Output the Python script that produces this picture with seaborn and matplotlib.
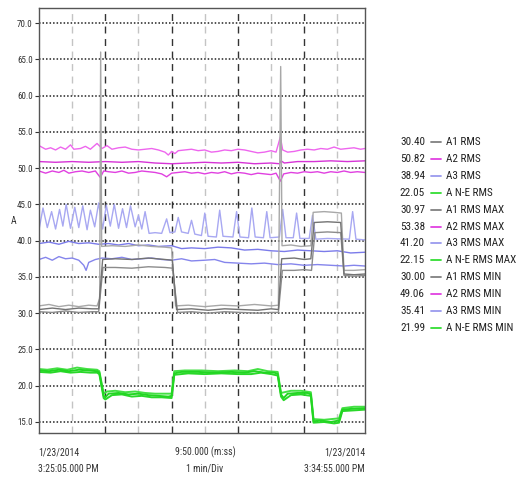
import numpy as np
import pandas as pd
import matplotlib
matplotlib.use("Agg")
import matplotlib.pyplot as plt
from matplotlib.lines import Line2D
import seaborn as sns

# ---------------- data (time in minutes from 3:25:05 PM) ----------------
a1_max_t = [0, 0.3, 0.6, 0.9, 1.2, 1.5, 1.75, 1.83, 1.86, 1.89, 2.2, 2.6, 3.0, 3.4, 3.8, 4.0, 4.12, 4.5, 5.0, 5.5, 6.0, 6.5, 7.0, 7.22, 7.29, 7.33, 7.6, 7.9, 8.2, 8.27, 8.6, 8.9, 9.12, 9.2, 9.5, 9.83]
a1_max_v = [31.0, 31.2, 30.9, 31.1, 30.9, 31.1, 31.0, 32.0, 66.0, 39.2, 39.3, 39.2, 39.4, 39.2, 39.1, 39.0, 31.0, 31.1, 30.9, 31.1, 31.0, 31.2, 31.0, 31.1, 64.0, 39.3, 39.4, 39.2, 39.3, 43.9, 44.0, 43.9, 43.8, 35.9, 35.9, 36.0]

a1_rms_t = [0, 0.4, 0.8, 1.2, 1.6, 1.8, 1.92, 2.3, 2.8, 3.3, 3.8, 4.02, 4.15, 4.6, 5.1, 5.6, 6.1, 6.6, 7.0, 7.22, 7.32, 7.7, 8.0, 8.2, 8.3, 8.7, 9.1, 9.2, 9.5, 9.83]
a1_rms_v = [30.5, 30.7, 30.5, 30.7, 30.6, 30.6, 37.4, 37.5, 37.4, 37.6, 37.4, 37.3, 30.5, 30.6, 30.4, 30.6, 30.5, 30.4, 30.6, 30.5, 37.5, 37.6, 37.4, 37.5, 42.5, 42.6, 42.5, 35.4, 35.3, 35.4]

a1_min_t = [0, 0.4, 0.8, 1.2, 1.6, 1.8, 1.93, 2.3, 2.8, 3.3, 3.8, 4.03, 4.18, 4.6, 5.1, 5.6, 6.1, 6.6, 7.0, 7.22, 7.34, 7.7, 8.0, 8.22, 8.32, 8.7, 9.1, 9.2, 9.5, 9.83]
a1_min_v = [30.2, 30.1, 30.3, 30.1, 30.2, 30.2, 36.3, 36.3, 36.2, 36.4, 36.3, 36.2, 30.1, 30.2, 30.0, 30.2, 30.1, 30.0, 30.1, 30.1, 35.9, 35.9, 36.0, 35.9, 41.1, 41.2, 41.1, 35.2, 35.1, 35.2]

a2_max_t = [0, 0.2, 0.35, 0.5, 0.65, 0.8, 0.95, 1.05, 1.25, 1.4, 1.55, 1.75, 1.9, 2.05, 2.2, 2.4, 2.6, 2.8, 3.0, 3.2, 3.4, 3.6, 3.8, 3.9, 4.0, 4.1, 4.2, 4.4, 4.6, 4.8, 5.0, 5.2, 5.4, 5.6, 5.8, 6.0, 6.2, 6.4, 6.6, 6.8, 7.0, 7.15, 7.28, 7.35, 7.5, 7.7, 7.9, 8.1, 8.3, 8.5, 8.7, 8.9, 9.1, 9.3, 9.5, 9.7, 9.83]
a2_max_v = [53.1, 52.6, 52.8, 52.5, 52.9, 52.6, 53.2, 52.6, 52.7, 53.0, 52.6, 53.4, 52.7, 53.1, 52.6, 52.8, 52.9, 52.6, 52.5, 52.6, 52.7, 52.5, 52.2, 51.8, 52.3, 52.0, 52.4, 52.5, 52.6, 52.4, 52.5, 52.2, 52.3, 52.5, 52.4, 52.6, 52.5, 52.3, 52.1, 52.2, 52.4, 52.2, 54.3, 52.5, 52.2, 52.3, 52.5, 52.6, 52.5, 52.7, 52.6, 52.9, 52.6, 52.7, 52.8, 52.6, 52.7]

a2_rms_t = [0, 0.5, 1.0, 1.5, 2.0, 2.5, 3.0, 3.5, 4.0, 4.5, 5.0, 5.5, 6.0, 6.5, 7.0, 7.25, 7.3, 7.4, 7.8, 8.3, 8.8, 9.3, 9.83]
a2_rms_v = [50.9, 50.8, 50.9, 50.8, 50.9, 50.8, 50.9, 50.7, 50.6, 50.7, 50.8, 50.7, 50.8, 50.6, 50.7, 50.6, 51.0, 50.7, 50.9, 50.9, 51.0, 50.9, 51.0]

a2_min_t = [0, 0.2, 0.4, 0.6, 0.75, 0.9, 1.1, 1.3, 1.5, 1.7, 1.85, 1.95, 2.1, 2.3, 2.5, 2.7, 2.9, 3.1, 3.3, 3.5, 3.7, 3.85, 4.0, 4.2, 4.4, 4.6, 4.8, 5.0, 5.2, 5.4, 5.6, 5.8, 6.0, 6.2, 6.4, 6.6, 6.8, 7.0, 7.15, 7.28, 7.38, 7.6, 7.8, 8.0, 8.2, 8.4, 8.6, 8.8, 9.0, 9.2, 9.4, 9.6, 9.83]
a2_min_v = [49.6, 49.3, 49.6, 49.4, 49.7, 49.3, 49.5, 49.6, 49.4, 49.6, 48.7, 49.6, 49.5, 49.4, 49.6, 49.3, 49.4, 49.6, 49.5, 49.4, 49.2, 48.8, 49.3, 49.4, 49.5, 49.3, 49.4, 49.2, 49.4, 49.3, 49.5, 49.2, 49.4, 49.3, 49.1, 49.3, 49.2, 49.1, 49.3, 48.2, 49.2, 49.4, 49.3, 49.5, 49.4, 49.5, 49.3, 49.5, 49.4, 49.6, 49.4, 49.5, 49.4]

a3_max_t = [0.0, 0.12, 0.25, 0.38, 0.5, 0.62, 0.72, 0.82, 0.95, 1.08, 1.2, 1.32, 1.45, 1.55, 1.68, 1.8, 1.92, 2.03, 2.15, 2.27, 2.4, 2.52, 2.64, 2.76, 2.9, 3.0, 3.1, 3.2, 3.32, 3.5, 3.7, 3.85, 3.95, 4.1, 4.2, 4.3, 4.5, 4.6, 4.7, 4.9, 5.0, 5.1, 5.35, 5.45, 5.55, 5.85, 5.96, 6.06, 6.32, 6.42, 6.52, 6.77, 6.87, 6.97, 7.25, 7.35, 7.45, 7.67, 7.77, 7.87, 8.15, 8.25, 8.35, 8.7, 9.36, 9.46, 9.56, 9.83]
a3_max_v = [41.5, 44.5, 41.8, 44.0, 41.6, 44.3, 42.0, 45.0, 41.7, 44.6, 41.8, 44.8, 41.5, 44.2, 41.9, 45.2, 41.6, 44.9, 42.0, 45.0, 41.7, 44.4, 41.8, 44.8, 41.9, 43.5, 41.6, 44.0, 41.0, 41.1, 41.0, 43.0, 41.1, 41.2, 43.2, 41.2, 41.0, 42.8, 40.9, 40.7, 43.8, 40.6, 40.5, 44.2, 40.6, 40.5, 44.0, 40.5, 40.4, 44.5, 40.5, 40.4, 44.0, 40.4, 40.5, 44.3, 40.4, 40.4, 43.8, 40.3, 40.3, 43.5, 40.2, 40.3, 40.2, 44.0, 40.2, 40.1]

a3_rms_t = [0, 0.3, 0.6, 0.9, 1.2, 1.5, 1.8, 2.1, 2.4, 2.7, 3.0, 3.3, 3.6, 4.0, 4.3, 4.6, 5.0, 5.4, 5.8, 6.2, 6.6, 7.0, 7.4, 7.8, 8.2, 8.6, 9.0, 9.4, 9.83]
a3_rms_v = [39.6, 39.8, 39.5, 39.9, 39.6, 39.7, 39.5, 39.6, 39.4, 39.6, 39.3, 39.4, 39.2, 39.3, 38.9, 39.0, 38.9, 39.1, 39.0, 38.7, 38.8, 38.6, 38.5, 38.7, 38.6, 38.5, 38.6, 38.3, 38.4]

a3_min_t = [0, 0.2, 0.4, 0.6, 0.8, 1.0, 1.2, 1.35, 1.42, 1.5, 1.7, 1.9, 2.2, 2.5, 2.8, 3.1, 3.4, 3.7, 4.0, 4.3, 4.6, 5.0, 5.3, 5.6, 6.0, 6.4, 6.8, 7.2, 7.6, 8.0, 8.4, 8.8, 9.2, 9.5, 9.83]
a3_min_v = [37.4, 37.7, 37.3, 37.8, 37.5, 37.6, 37.3, 36.6, 35.9, 37.0, 37.4, 37.6, 37.5, 37.7, 37.4, 37.5, 37.6, 37.4, 37.3, 37.5, 37.2, 37.3, 37.4, 37.0, 36.9, 36.8, 36.9, 36.7, 36.8, 36.6, 36.7, 36.6, 36.5, 36.6, 36.5]

ne_rms_t = [0, 0.3, 0.6, 0.9, 1.2, 1.5, 1.75, 1.82, 1.95, 2.0, 2.1, 2.4, 2.7, 3.0, 3.3, 3.6, 3.9, 4.0, 4.08, 4.3, 4.8, 5.3, 5.8, 6.2, 6.5, 6.8, 7.1, 7.2, 7.3, 7.38, 7.5, 7.8, 8.1, 8.2, 8.28, 8.5, 8.8, 9.05, 9.15, 9.4, 9.83]
ne_rms_v = [22.1, 22.0, 22.2, 22.0, 22.2, 22.1, 22.0, 21.8, 18.6, 18.4, 18.9, 19.0, 18.8, 18.9, 18.7, 18.6, 18.5, 18.6, 21.7, 21.9, 21.9, 21.8, 21.9, 21.8, 22.0, 21.8, 21.8, 21.6, 18.8, 18.3, 18.9, 19.0, 19.0, 18.8, 15.1, 15.2, 15.0, 15.2, 16.7, 16.8, 16.9]

ne_max_t = [0, 0.25, 0.55, 0.85, 1.15, 1.45, 1.75, 1.82, 1.95, 2.05, 2.3, 2.6, 2.9, 3.2, 3.5, 3.8, 4.0, 4.08, 4.4, 4.9, 5.4, 5.9, 6.3, 6.6, 6.9, 7.2, 7.3, 7.4, 7.6, 7.9, 8.2, 8.28, 8.6, 9.05, 9.15, 9.5, 9.83]
ne_max_v = [22.3, 22.2, 22.4, 22.2, 22.5, 22.3, 22.2, 22.0, 18.9, 19.2, 19.3, 19.1, 19.2, 19.0, 18.9, 18.9, 18.9, 22.0, 22.1, 22.1, 22.0, 22.1, 22.0, 22.3, 22.0, 21.9, 19.0, 19.1, 19.3, 19.3, 19.1, 15.4, 15.3, 15.5, 16.9, 17.1, 17.1]

ne_min_t = [0, 0.35, 0.65, 0.95, 1.25, 1.55, 1.75, 1.82, 1.95, 2.0, 2.2, 2.5, 2.8, 3.1, 3.4, 3.7, 4.0, 4.08, 4.5, 5.0, 5.5, 6.0, 6.4, 6.7, 7.0, 7.2, 7.3, 7.38, 7.6, 7.9, 8.2, 8.28, 8.6, 8.9, 9.05, 9.15, 9.5, 9.83]
ne_min_v = [21.9, 21.8, 22.0, 21.8, 21.9, 21.8, 21.8, 21.6, 18.3, 18.1, 18.7, 18.8, 18.5, 18.6, 18.4, 18.4, 18.3, 21.5, 21.7, 21.6, 21.7, 21.6, 21.6, 21.8, 21.6, 21.4, 18.5, 18.0, 18.7, 18.8, 18.6, 14.9, 15.0, 14.8, 14.9, 16.5, 16.6, 16.7]

legend_values = ["30.40", "50.82", "38.94", "22.05", "30.97", "53.38", "41.20", "22.15", "30.00", "49.06", "35.41", "21.99"]
legend_labels = ["A1 RMS", "A2 RMS", "A3 RMS", "A N-E RMS", "A1 RMS MAX", "A2 RMS MAX", "A3 RMS MAX", "A N-E RMS MAX",
                 "A1 RMS MIN", "A2 RMS MIN", "A3 RMS MIN", "A N-E RMS MIN"]
y_ticks = [15, 20, 25, 30, 35, 40, 45, 50, 55, 60, 65, 70]

series = {
    "A1 RMS": (a1_rms_t, a1_rms_v), "A2 RMS": (a2_rms_t, a2_rms_v), "A3 RMS": (a3_rms_t, a3_rms_v),
    "A N-E RMS": (ne_rms_t, ne_rms_v),
    "A1 RMS MAX": (a1_max_t, a1_max_v), "A2 RMS MAX": (a2_max_t, a2_max_v), "A3 RMS MAX": (a3_max_t, a3_max_v),
    "A N-E RMS MAX": (ne_max_t, ne_max_v),
    "A1 RMS MIN": (a1_min_t, a1_min_v), "A2 RMS MIN": (a2_min_t, a2_min_v), "A3 RMS MIN": (a3_min_t, a3_min_v),
    "A N-E RMS MIN": (ne_min_t, ne_min_v),
}

palette = {
    "A1 RMS": "#737373", "A1 RMS MAX": "#a8a8a8", "A1 RMS MIN": "#8c8c8c",
    "A2 RMS": "#d633d6", "A2 RMS MAX": "#ee66ee", "A2 RMS MIN": "#e040e0",
    "A3 RMS": "#7b7bea", "A3 RMS MAX": "#a8a8f2", "A3 RMS MIN": "#8585ec",
    "A N-E RMS": "#22d622", "A N-E RMS MAX": "#44e044", "A N-E RMS MIN": "#2ad82a",
}
widths = {k: 1.0 for k in palette}
for k in ["A N-E RMS", "A N-E RMS MAX", "A N-E RMS MIN"]:
    widths[k] = 1.4
legend_colors = ["#808080", "#e040e0", "#9a9aee", "#33dd33"] * 3

rows = []
for name, (t, v) in series.items():
    for ti, vi in zip(t, v):
        rows.append((ti, vi, name))
df = pd.DataFrame(rows, columns=["minutes", "amps", "series"])

# ---------------- figure ----------------
sns.set_style("white")
plt.rcParams["font.family"] = ["Roboto Condensed", "Archivo Narrow", "DejaVu Sans"]

W, H = 517, 479
fig = plt.figure(figsize=(W / 100, H / 100), dpi=100)
ax = fig.add_axes([39 / W, 1 - 433 / H, (365 - 39) / W, (433 - 8) / H])

for m in [1, 3, 5, 7, 9]:
    ax.axvline(m, color="#c4c4c4", lw=1.0, ls=(0, (5, 4)), zorder=0)
for m in [2, 4, 6, 8]:
    ax.axvline(m, color="#333333", lw=1.0, ls=(0, (5, 4)), zorder=0)
for yv in y_ticks:
    ax.axhline(yv, color="#222222", lw=1.1, ls=(0, (1, 1.3)), zorder=0)

draw_order = ["A3 RMS MAX", "A3 RMS", "A3 RMS MIN", "A2 RMS MAX", "A2 RMS", "A2 RMS MIN",
              "A N-E RMS MAX", "A N-E RMS MIN", "A N-E RMS", "A1 RMS MAX", "A1 RMS MIN", "A1 RMS"]
for name in draw_order:
    sub = df[df["series"] == name]
    sns.lineplot(data=sub, x="minutes", y="amps", color=palette[name], estimator=None,
                 linewidth=widths[name], legend=False, ax=ax)

ax.set_xlim(0, 9.833)
ax.set_ylim(13.48, 72.07)
ax.set_xticks([])
ax.set_yticks(y_ticks)
ax.set_yticklabels([f"{v:.1f}" for v in y_ticks], fontsize=6.5, color="#333333")
ax.tick_params(axis="y", length=3, width=0.8, color="#333333", pad=1.5, left=True)
ax.set_xlabel("")
ax.set_ylabel("")
for s in ax.spines.values():
    s.set_color("#555555")
    s.set_linewidth(1.0)

fig.text(14 / W, 1 - 221 / H, "A", fontsize=7, ha="center", va="center", color="#333333")

# bottom annotations
tcol = "#333333"
fig.text(38 / W, 1 - 452 / H, "1/23/2014", fontsize=7, ha="left", va="center", color=tcol)
fig.text(38 / W, 1 - 469 / H, "3:25:05.000 PM", fontsize=7, ha="left", va="center", color=tcol)
fig.text(205 / W, 1 - 452 / H, "9:50.000 (m:ss)", fontsize=7, ha="center", va="center", color=tcol)
fig.text(205 / W, 1 - 469 / H, "1 min/Div", fontsize=7, ha="center", va="center", color=tcol)
fig.text(365 / W, 1 - 452 / H, "1/23/2014", fontsize=7, ha="right", va="center", color=tcol)
fig.text(365 / W, 1 - 469 / H, "3:34:55.000 PM", fontsize=7, ha="right", va="center", color=tcol)

# legend (value, swatch, label)
y0, dy = 142, 16.9
for i, (val, lab, col) in enumerate(zip(legend_values, legend_labels, legend_colors)):
    yy = 1 - (y0 + i * dy) / H
    fig.text(425 / W, yy, val, fontsize=8, ha="right", va="center", color="#222222")
    fig.add_artist(Line2D([431 / W, 441 / W], [yy, yy], color=col, lw=1.3, transform=fig.transFigure))
    fig.text(446 / W, yy, lab, fontsize=8, ha="left", va="center", color="#222222")

fig.savefig("out.png", dpi=100)
